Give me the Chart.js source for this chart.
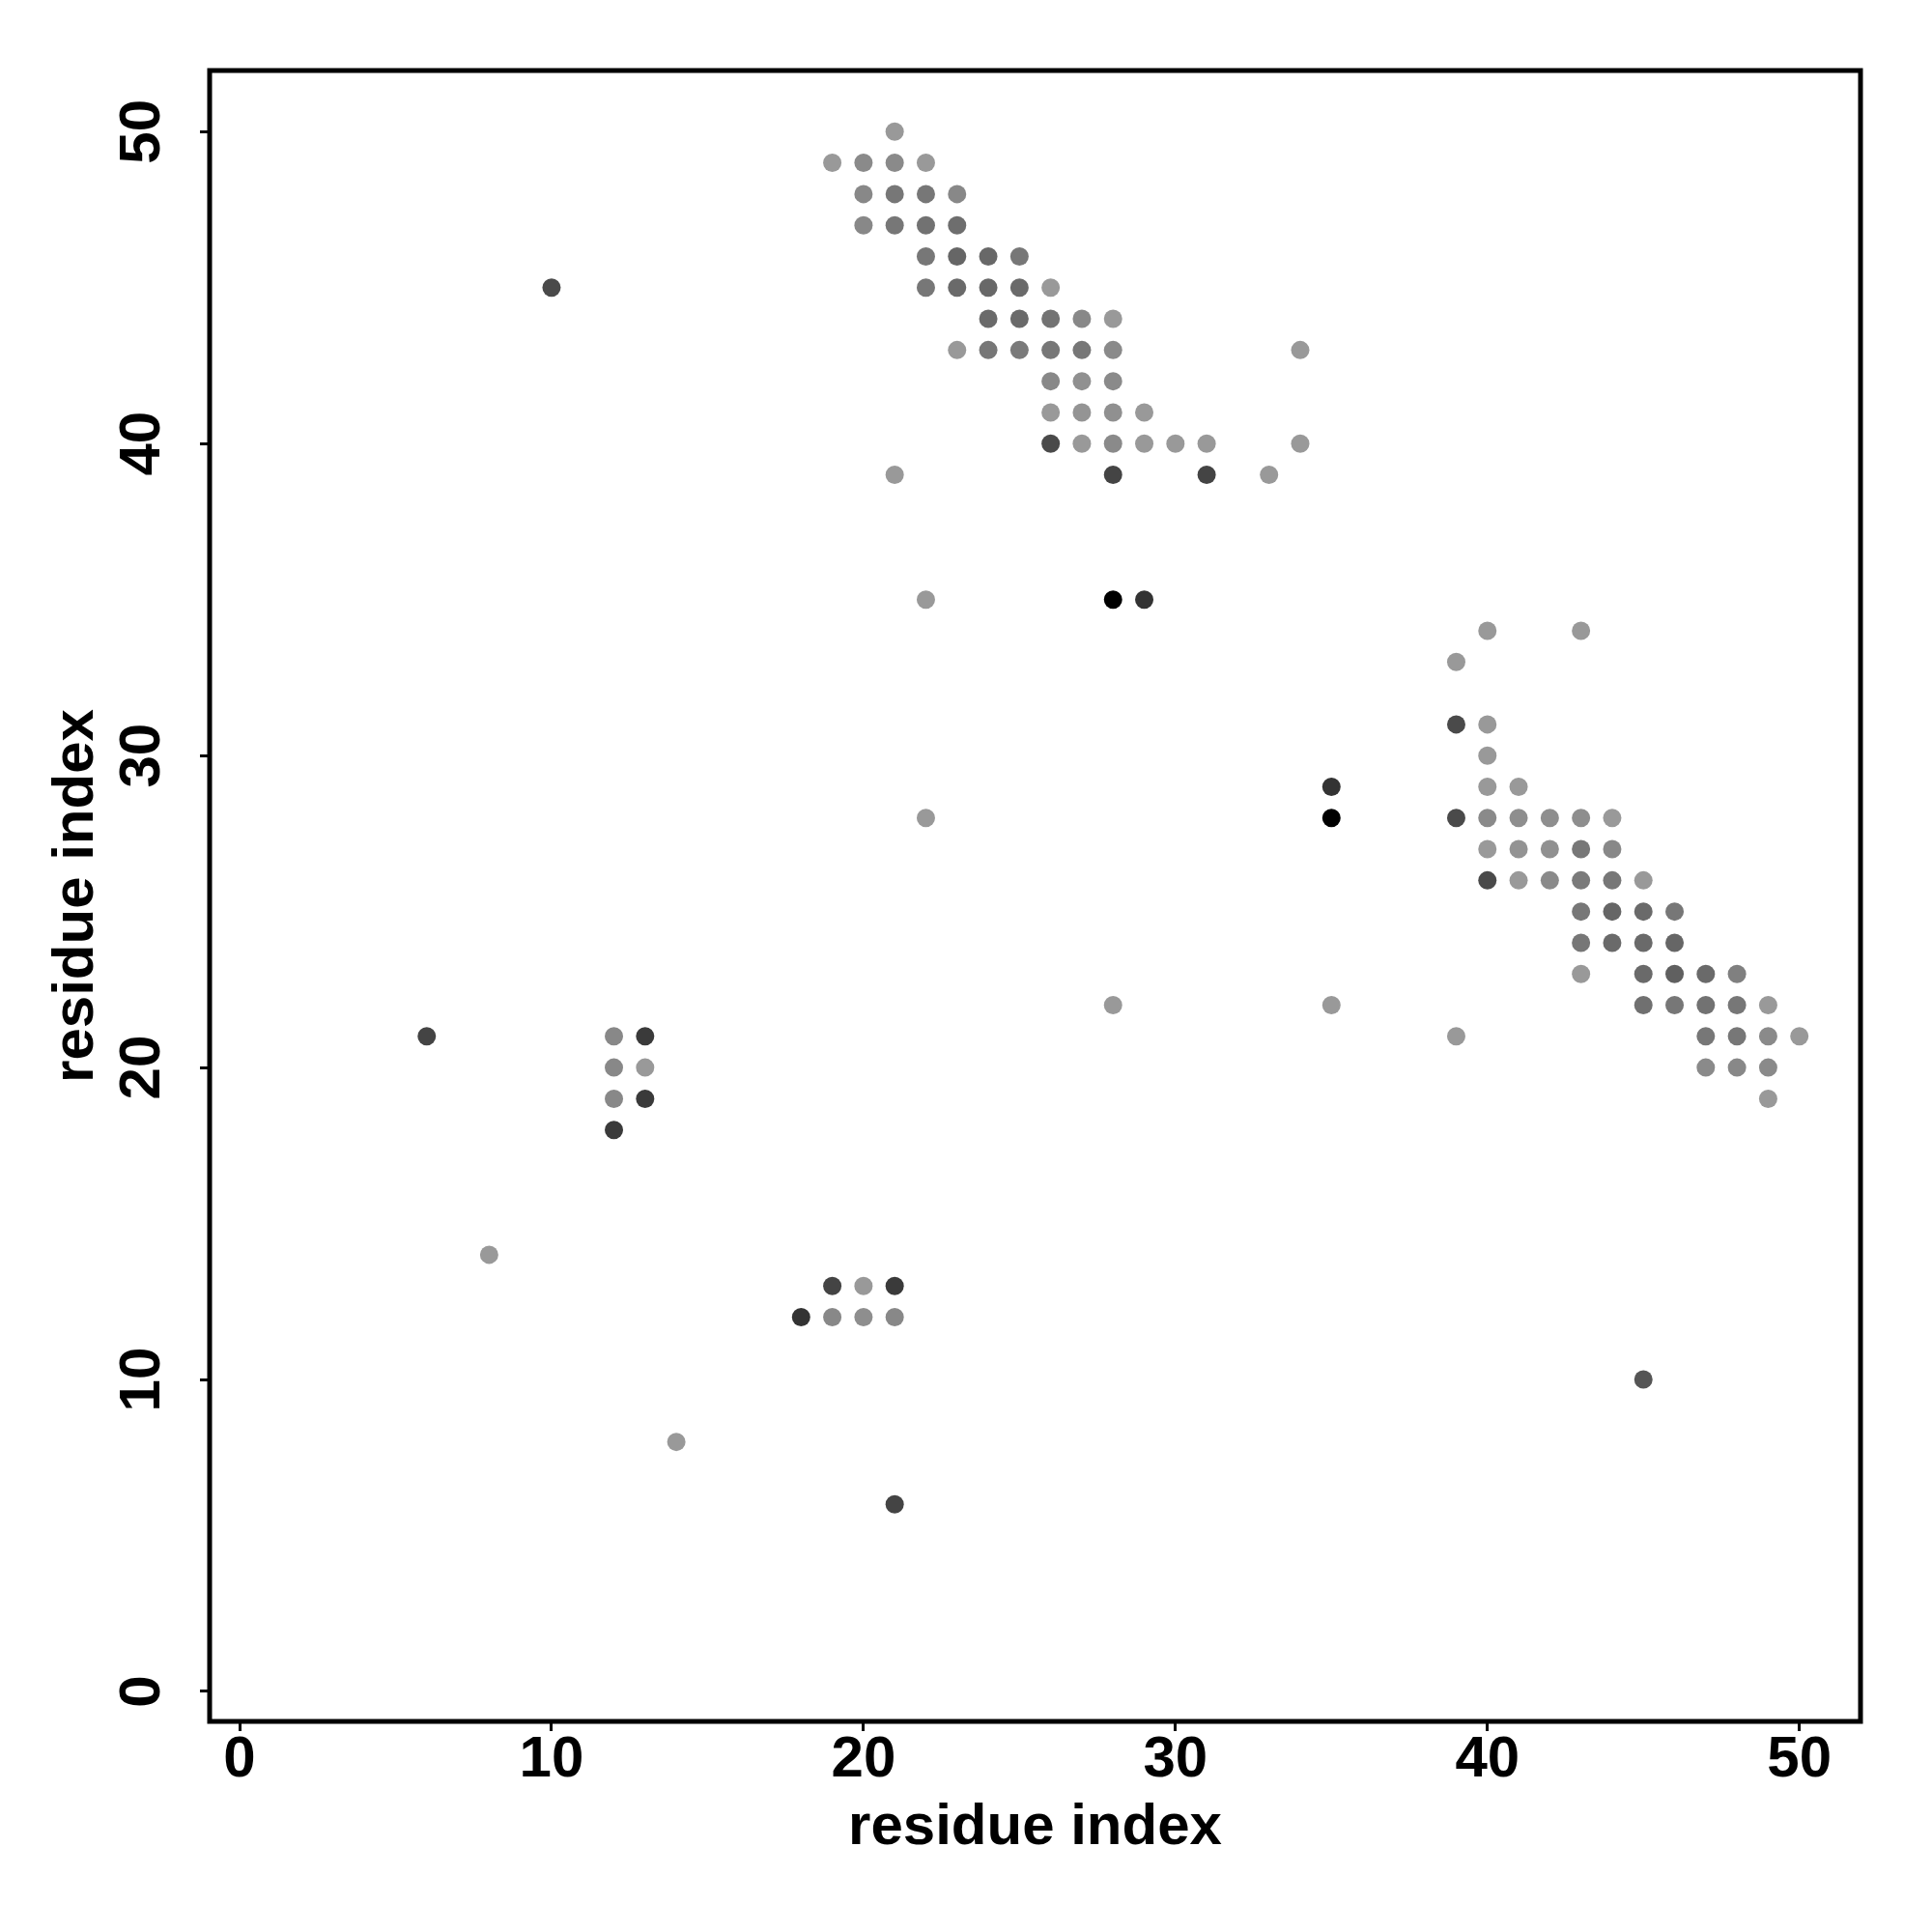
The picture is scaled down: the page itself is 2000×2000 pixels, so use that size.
<!DOCTYPE html>
<html>
<head>
<meta charset="utf-8">
<script src="https://cdn.jsdelivr.net/npm/chart.js@4.4.1/dist/chart.umd.min.js"></script>
<style>
  html, body { margin: 0; padding: 0; background: #fff; }
  #wrap { width: 2000px; height: 2000px; }
</style>
</head>
<body>
<div id="wrap"><canvas id="chart1" width="2000" height="2000"></canvas></div>
<script>
// contact points: residue i, residue j, grey level (0 = black, 255 = white)
const resX = [
  21,
  19, 20, 21, 22,
  20, 21, 22, 23,
  20, 21, 22, 23,
  22, 23, 24, 25,
  10, 22, 23, 24, 25, 26,
  24, 25, 26, 27, 28,
  23, 24, 25, 26, 27, 28, 34,
  26, 27, 28,
  26, 27, 28, 29,
  26, 27, 28, 29, 30, 31, 34,
  21, 28, 31, 33,
  22, 28, 29,
  40, 43,
  39,
  39, 40,
  40,
  35, 40, 41,
  22, 35, 39, 40, 41, 42, 43, 44,
  40, 41, 42, 43, 44,
  40, 41, 42, 43, 44, 45,
  43, 44, 45, 46,
  43, 44, 45, 46,
  43, 45, 46, 47, 48,
  28, 35, 45, 46, 47, 48, 49,
  6, 12, 13, 39, 47, 48, 49, 50,
  12, 13, 47, 48, 49,
  12, 13, 49,
  12,
  8,
  19, 20, 21,
  18, 19, 20, 21,
  45,
  14,
  21
];
const resY = [
  50,
  49, 49, 49, 49,
  48, 48, 48, 48,
  47, 47, 47, 47,
  46, 46, 46, 46,
  45, 45, 45, 45, 45, 45,
  44, 44, 44, 44, 44,
  43, 43, 43, 43, 43, 43, 43,
  42, 42, 42,
  41, 41, 41, 41,
  40, 40, 40, 40, 40, 40, 40,
  39, 39, 39, 39,
  35, 35, 35,
  34, 34,
  33,
  31, 31,
  30,
  29, 29, 29,
  28, 28, 28, 28, 28, 28, 28, 28,
  27, 27, 27, 27, 27,
  26, 26, 26, 26, 26, 26,
  25, 25, 25, 25,
  24, 24, 24, 24,
  23, 23, 23, 23, 23,
  22, 22, 22, 22, 22, 22, 22,
  21, 21, 21, 21, 21, 21, 21, 21,
  20, 20, 20, 20, 20,
  19, 19, 19,
  18,
  14,
  13, 13, 13,
  12, 12, 12, 12,
  10,
  8,
  6
];
const greyLevel = [
  153,
  153, 138, 138, 153,
  136, 119, 119, 136,
  136, 119, 114, 110,
  119, 102, 104, 119,
  74, 119, 106, 104, 106, 153,
  106, 106, 115, 136, 153,
  153, 119, 122, 119, 119, 138, 153,
  136, 144, 138,
  153, 148, 144, 153,
  74, 153, 138, 153, 153, 153, 153,
  153, 68, 68, 153,
  153, 0, 51,
  153, 153,
  153,
  74, 153,
  153,
  51, 153, 153,
  153, 0, 74, 138, 142, 142, 142, 153,
  153, 147, 144, 119, 136,
  74, 153, 138, 122, 119, 153,
  119, 102, 106, 119,
  119, 106, 106, 102,
  153, 106, 96, 106, 128,
  153, 153, 112, 119, 114, 119, 153,
  68, 136, 58, 153, 119, 119, 138, 153,
  136, 153, 138, 136, 138,
  136, 58, 153,
  58,
  153,
  68, 153, 58,
  51, 136, 142, 136,
  85,
  153,
  68
];
const tickVals = [0, 10, 20, 30, 40, 50];
const axisMin = -0.96, axisMax = 51.96;
const axisLabel = "residue index";

const points = resX.map((x, i) => ({x: x, y: resY[i]}));
const colours = greyLevel.map(g => `rgb(${g},${g},${g})`);

const frame = {
  id: "frame",
  afterDraw(chart) {
    const a = chart.chartArea, ctx = chart.ctx;
    ctx.save();
    ctx.strokeStyle = "#000";
    ctx.lineWidth = 5;
    ctx.strokeRect(a.left, a.top, a.right - a.left, a.bottom - a.top);
    ctx.restore();
  }
};

const tickFont = {family: "'Liberation Sans', Arial, sans-serif", size: 60, weight: "bold"};
const titleFont = {family: "'Liberation Sans', Arial, sans-serif", size: 60, weight: "bold"};
const fixTicks = s => { s.ticks = tickVals.map(v => ({value: v})); };

new Chart(document.getElementById("chart1"), {
  type: "scatter",
  data: {
    datasets: [{
      data: points,
      pointBackgroundColor: colours,
      pointBorderWidth: 0,
      pointRadius: 9.5,
      pointHoverRadius: 9.5
    }]
  },
  options: {
    responsive: false,
    animation: false,
    devicePixelRatio: 1,
    layout: {padding: {top: 73, right: 74, left: 0, bottom: 0}},
    plugins: {legend: {display: false}, tooltip: {enabled: false}},
    scales: {
      x: {
        type: "linear",
        min: axisMin, max: axisMax,
        afterBuildTicks: fixTicks,
        afterFit: s => { s.height = 218; },
        border: {display: false},
        grid: {drawOnChartArea: false, drawTicks: true, tickLength: 10, tickWidth: 3, tickColor: "#000"},
        ticks: {color: "#000", font: tickFont, padding: -6, maxRotation: 0},
        title: {display: true, text: axisLabel, color: "#000", font: titleFont, padding: {top: 0, bottom: 72}}
      },
      y: {
        type: "linear",
        min: axisMin, max: axisMax,
        afterBuildTicks: fixTicks,
        afterFit: s => { s.width = 217; },
        border: {display: false},
        grid: {drawOnChartArea: false, drawTicks: true, tickLength: 10, tickWidth: 3, tickColor: "#000"},
        ticks: {color: "#000", font: tickFont, padding: 25, minRotation: 90, maxRotation: 90, crossAlign: "center"},
        title: {display: true, text: axisLabel, color: "#000", font: titleFont, padding: {top: 43, bottom: 0}}
      }
    }
  },
  plugins: [frame]
});
</script>
</body>
</html>
